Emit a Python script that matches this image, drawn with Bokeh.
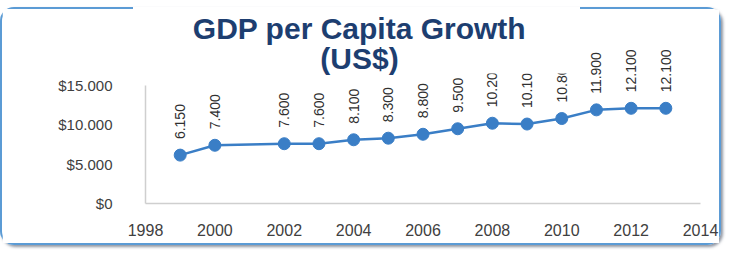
import math
from bokeh.plotting import figure
from bokeh.models import FixedTicker, SingleIntervalTicker, BoxAnnotation, Label, ColumnDataSource, Range1d
from bokeh.core.properties import value
from bokeh.embed import file_html
from bokeh.resources import INLINE

years = [1999, 2000, 2002, 2003, 2004, 2005, 2006, 2007, 2008, 2009, 2010, 2011, 2012, 2013]
gdp = [6150, 7400, 7600, 7600, 8100, 8300, 8800, 9500, 10200, 10100, 10800, 11900, 12100, 12100]
y_ticks = [0, 5000, 10000, 15000]
y_tick_labels = ["$0", "$5.000", "$10.000", "$15.000"]
title_text = "GDP per Capita Growth\n(US$)"

labels = [f"{v:,}".replace(",", ".") for v in gdp]
src = ColumnDataSource(dict(x=years, y=gdp, label=labels))

W, H = 721, 238
p = figure(width=W, height=H, output_backend="svg", toolbar_location=None,
           x_range=Range1d(1998, 2014), y_range=Range1d(0, 24530),
           min_border_left=143, min_border_right=23, min_border_top=1, min_border_bottom=44)
BC = "#5b9bd5"
p.styles = {
    "border": f"2px solid {BC}",
    "border-top-color": "transparent",
    "border-radius": "14px",
    "background": (f"linear-gradient({BC},{BC}) 0px 0px / 133px 2px no-repeat border-box, "
                   f"linear-gradient({BC},{BC}) 580px 0px / 200px 2px no-repeat border-box"),
    "box-shadow": "2px 2px 3px rgba(70,80,100,0.6)",
    "margin-top": "7px",
}
p.outline_line_color = None
p.xgrid.visible = False
p.ygrid.visible = False
p.background_fill_color = "white"
p.border_fill_color = "white"

FONT = "Liberation Sans"
for ax in (p.xaxis[0], p.yaxis[0]):
    ax.major_tick_line_color = None
    ax.minor_tick_line_color = None
    ax.major_label_text_font = FONT
    ax.major_label_text_color = "#404040"
    ax.axis_line_color = "#cfcfcf"
    ax.axis_line_width = 1.5

p.xaxis[0].ticker = SingleIntervalTicker(interval=2)
p.xaxis[0].major_label_text_font_size = "16px"
p.xaxis[0].major_label_standoff = 14
p.yaxis[0].ticker = FixedTicker(ticks=y_ticks)
p.yaxis[0].major_label_text_font_size = "15px"
p.yaxis[0].major_label_overrides = {t: l for t, l in zip(y_ticks, y_tick_labels)}
p.yaxis[0].major_label_standoff = 27
p.yaxis[0].bounds = (y_ticks[0], y_ticks[-1])

blue = "#3a7ec6"
p.line("x", "y", source=src, line_color=blue, line_width=2.5)
p.scatter("x", "y", source=src, size=12, fill_color=blue, line_color=blue)
p.text("x", "y", text="label", source=src, angle=math.pi / 2, text_align="left", text_baseline="middle",
       y_offset=-16, text_font=value(FONT), text_font_size="14px", text_color="#303030")

# white patch behind the title (hides part of the value labels, as in the original)
cover = BoxAnnotation(left=131, right=583, top=-5, bottom=62,
                      left_units="canvas", right_units="canvas", top_units="canvas", bottom_units="canvas",
                      fill_color="white", fill_alpha=1, line_color=None, level="overlay")
p.add_layout(cover)

title = Label(x=355, y=0, x_units="canvas", y_units="canvas", text=title_text,
              text_align="center", text_baseline="top", text_font=FONT, text_font_size="30px",
              text_font_style="bold", text_color="#1d3e70", text_line_height=0.92, level="overlay")
p.add_layout(title)

open("out.html", "w").write(file_html(p, INLINE))
